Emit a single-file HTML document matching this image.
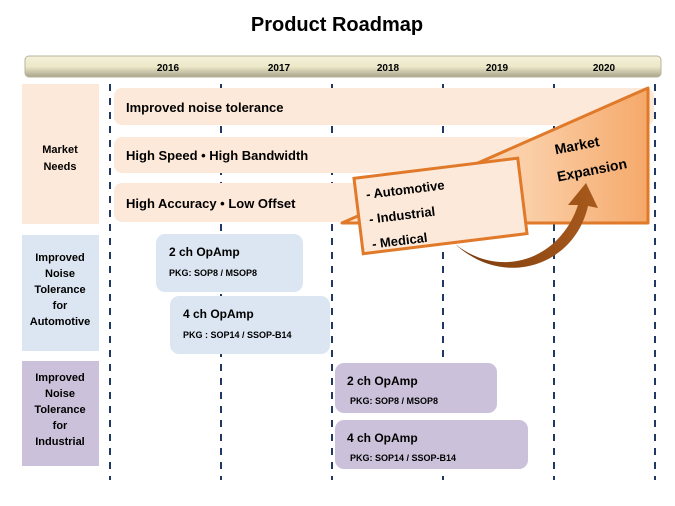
<!DOCTYPE html>
<html><head><style>
body{margin:0;background:#fff;}
svg{display:block;font-family:"Liberation Sans",sans-serif;font-weight:bold;}
</style></head><body>
<svg width="675" height="506" viewBox="0 0 675 506" xmlns="http://www.w3.org/2000/svg">
<defs>
<linearGradient id="hb" x1="0" y1="0" x2="0" y2="1">
<stop offset="0" stop-color="#f4f1dc"/><stop offset="0.5" stop-color="#ece8c8"/><stop offset="1" stop-color="#a8a48c"/>
</linearGradient>
<linearGradient id="tri" x1="0" y1="0" x2="1" y2="0">
<stop offset="0" stop-color="#fde4cf"/><stop offset="0.6" stop-color="#fbcfa8"/><stop offset="1" stop-color="#f5a96a"/>
</linearGradient>
<linearGradient id="arr" x1="0" y1="0" x2="1" y2="0">
<stop offset="0" stop-color="#7a3a0c"/><stop offset="1" stop-color="#a85a1c"/>
</linearGradient>
</defs>
<text x="337" y="31" text-anchor="middle" font-size="20" fill="#000">Product Roadmap</text>
<rect x="25" y="56" width="636" height="21" rx="4" fill="url(#hb)" stroke="#b8b49a"/>
<g font-size="10" fill="#000" text-anchor="middle">
<text x="168" y="71">2016</text><text x="279" y="71">2017</text><text x="388" y="71">2018</text><text x="497" y="71">2019</text><text x="604" y="71">2020</text>
</g>
<g stroke="#1f3864" stroke-width="2" stroke-dasharray="7,7">
<line x1="110" y1="84" x2="110" y2="480"/><line x1="221" y1="84" x2="221" y2="480"/><line x1="332" y1="84" x2="332" y2="480"/><line x1="443" y1="84" x2="443" y2="480"/><line x1="554" y1="84" x2="554" y2="480"/><line x1="655" y1="84" x2="655" y2="480"/>
</g>
<rect x="22" y="84" width="77" height="140" fill="#fde9d9"/>
<rect x="22" y="235" width="77" height="116" fill="#dce6f2"/>
<rect x="22" y="361" width="77" height="105" fill="#ccc1da"/>
<g font-size="11" text-anchor="middle" fill="#000">
<text x="60" y="153">Market</text><text x="60" y="170">Needs</text>
<text x="60" y="261">Improved</text><text x="60" y="277">Noise</text><text x="60" y="293">Tolerance</text><text x="60" y="309">for</text><text x="60" y="325">Automotive</text>
<text x="60" y="381">Improved</text><text x="60" y="397">Noise</text><text x="60" y="413">Tolerance</text><text x="60" y="429">for</text><text x="60" y="445">Industrial</text>
</g>
<rect x="114" y="88" width="540" height="37" rx="8" fill="#fde9d9"/>
<rect x="114" y="137" width="420" height="36" rx="8" fill="#fde9d9"/>
<rect x="114" y="183" width="300" height="39" rx="8" fill="#fde9d9"/>
<g font-size="13" fill="#000">
<text x="126" y="112">Improved noise tolerance</text>
<text x="126" y="160">High Speed • High Bandwidth</text>
<text x="126" y="208">High Accuracy • Low Offset</text>
</g>
<polygon points="342,223 648,88 648,223" fill="url(#tri)" stroke="#e07a2a" stroke-width="3" stroke-linejoin="round"/>
<path d="M455,244 C500,280 560,260 578,205 L568,205 L586,183 L598,208 L588,206 C575,265 505,290 455,244 Z" fill="url(#arr)"/>
<g transform="rotate(-7 440 206)">
<rect x="358" y="168" width="165" height="76" fill="#fde9d9" stroke="#e07a2a" stroke-width="3"/>
<text x="368" y="190" font-size="13">- Automotive</text>
<text x="368" y="215" font-size="13">- Industrial</text>
<text x="368" y="240" font-size="13">- Medical</text>
</g>
<g transform="rotate(-11 590 160)" font-size="14" text-anchor="middle">
<text x="580" y="148">Market</text><text x="590" y="175">Expansion</text>
</g>
<rect x="156" y="234" width="147" height="58" rx="9" fill="#dce6f2"/>
<rect x="170" y="296" width="160" height="58" rx="9" fill="#dce6f2"/>
<rect x="335" y="363" width="162" height="50" rx="9" fill="#ccc1da"/>
<rect x="335" y="420" width="193" height="49" rx="9" fill="#ccc1da"/>
<g fill="#000">
<text x="169" y="256" font-size="12">2 ch OpAmp</text><text x="169" y="276" font-size="9">PKG: SOP8 / MSOP8</text>
<text x="183" y="318" font-size="12">4 ch OpAmp</text><text x="183" y="338" font-size="9">PKG : SOP14 / SSOP-B14</text>
<text x="347" y="385" font-size="12">2 ch OpAmp</text><text x="350" y="404" font-size="9">PKG: SOP8 / MSOP8</text>
<text x="347" y="442" font-size="12">4 ch OpAmp</text><text x="350" y="461" font-size="9">PKG: SOP14 / SSOP-B14</text>
</g>
</svg>
</body></html>
